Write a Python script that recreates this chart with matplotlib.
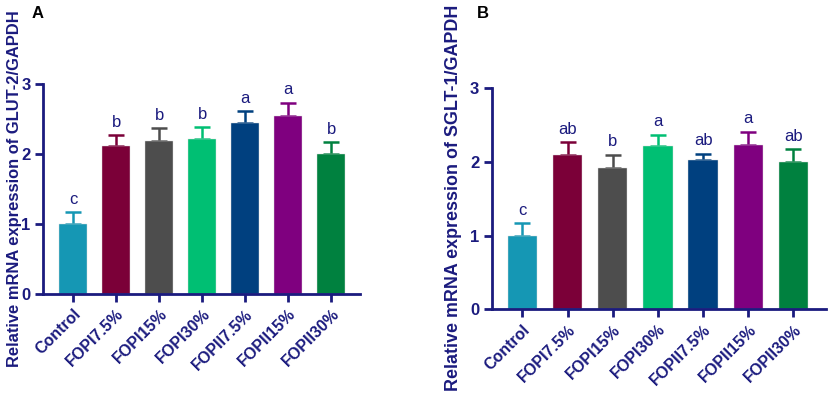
import matplotlib
matplotlib.use('Agg')
import numpy as np
import matplotlib.pyplot as plt

plt.rcParams['font.family'] = ['Liberation Sans', 'DejaVu Sans']

# ------------ Data ---------------
groups = ['Control', 'FOPI7.5%', 'FOPI15%', 'FOPI30%', 'FOPII7.5%', 'FOPII15%', 'FOPII30%']
colors = ['#1597B4', '#7B0038', '#4D4D4D', '#00BF73', '#00407F', '#7F007F', '#00813F']

glut2_mean = [1.00, 2.11, 2.18, 2.21, 2.44, 2.54, 2.00]
glut2_err = [0.17, 0.16, 0.19, 0.17, 0.17, 0.19, 0.17]
glut2_sig = ['c', 'b', 'b', 'b', 'a', 'a', 'b']

sglt1_mean = [1.00, 2.10, 1.92, 2.21, 2.02, 2.23, 2.00]
sglt1_err = [0.17, 0.17, 0.18, 0.16, 0.09, 0.18, 0.17]
sglt1_sig = ['c', 'ab', 'b', 'a', 'ab', 'a', 'ab']

NAVY = '#1B1B7E'

fig = plt.figure(figsize=(8.29, 3.97), dpi=100)
axA = fig.add_axes([0.0519, 0.2594, 0.3825, 0.5290])
axB = fig.add_axes([0.5931, 0.2209, 0.4033, 0.5567])


def draw_panel(ax, means, errs, sig, ylabel, xlim, lab_size):
    x = np.arange(len(groups))
    ax.bar(x, means, width=0.65, color=colors, edgecolor='#DDDDDD', linewidth=0.3, zorder=2)
    for xi, m, e, c in zip(x, means, errs, colors):
        ax.errorbar(xi, m, yerr=[[0], [e]], fmt='none', ecolor=c, elinewidth=1.8,
                    capsize=5.5, capthick=1.8, zorder=1)
    for xi, m, e, s in zip(x, means, errs, sig):
        ax.annotate(s, (xi, m + e), xytext=(0, 4), textcoords='offset points',
                    ha='center', va='bottom', fontsize=12, color=NAVY)
    ax.set_xlim(*xlim)
    ax.set_ylim(0, 3)
    ax.set_yticks([0, 1, 2, 3])
    ax.set_xticks(x)
    ax.set_xticklabels(groups, rotation=45, ha='right', rotation_mode='anchor',
                       fontsize=11.5, fontweight='bold', color=NAVY)
    for lab in ax.get_yticklabels():
        lab.set_fontweight('bold')
        lab.set_fontsize(12)
        lab.set_color(NAVY)
    ax.tick_params(axis='both', direction='out', length=6, width=2, color=NAVY, pad=3)
    for side in ['top', 'right']:
        ax.spines[side].set_visible(False)
    for side in ['left', 'bottom']:
        ax.spines[side].set_linewidth(2)
        ax.spines[side].set_color(NAVY)
    ax.set_ylabel(ylabel, fontsize=lab_size, fontweight='bold', color=NAVY)


draw_panel(axA, glut2_mean, glut2_err, glut2_sig,
           'Relative mRNA expression of GLUT-2/GAPDH', (-0.7, 6.67), 11.9)
draw_panel(axB, sglt1_mean, sglt1_err, sglt1_sig,
           'Relative mRNA expression of SGLT-1/GAPDH', (-0.68, 6.72), 12.9)

axA.yaxis.set_label_coords(-0.066, 0.5)
axB.yaxis.set_label_coords(-0.09, 0.505)

fig.text(32 / 829, 1 - 14 / 397, 'A', fontsize=12, fontweight='bold', color='black',
         ha='left', va='center')
fig.text(477 / 829, 1 - 14 / 397, 'B', fontsize=12, fontweight='bold', color='black',
         ha='left', va='center')

fig.savefig('out.png', dpi=100)
